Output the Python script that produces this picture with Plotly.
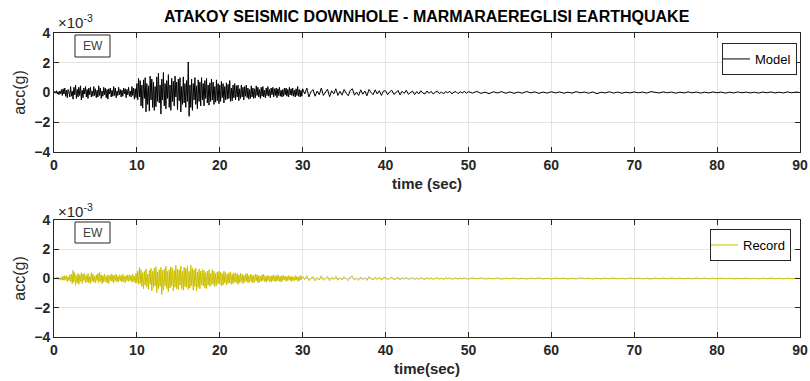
import numpy as np
import plotly.graph_objects as go

# sampling grids (s): 0-30 s every 0.1 s, 30-50 s every 0.25 s, 50-90 s every 0.5 s
time = np.concatenate([
    np.round(np.arange(0, 30, 0.1), 2),
    np.round(np.arange(30, 50, 0.25), 2),
    np.round(np.arange(50, 90.01, 0.5), 2),
])

# acceleration values in units of 1e-3 g, one row per second
model_early = [
    0.0, 0.08, -0.05, 0.12, -0.1, 0.05, -0.15, 0.1, -0.08, 0.2,
    -0.2, 0.25, -0.1, 0.3, -0.25, 0.15, -0.35, 0.2, 0.05, -0.3,
    0.4, -0.25, 0.1, -0.45, 0.35, -0.15, 0.5, -0.4, 0.2, -0.3,
    0.35, -0.2, 0.45, -0.5, 0.15, -0.35, 0.3, -0.1, 0.4, -0.3,
    0.2, -0.4, 0.3, -0.15, 0.35, -0.3, 0.1, -0.25, 0.4, -0.2,
    0.25, -0.35, 0.15, -0.3, 0.45, -0.2, 0.3, -0.4, 0.1, -0.25,
    0.35, -0.15, 0.3, -0.35, 0.2, -0.45, 0.25, -0.1, 0.3, -0.3,
    0.15, -0.25, 0.4, -0.2, 0.3, -0.35, 0.1, -0.2, 0.35, -0.15,
    0.2, -0.3, 0.15, -0.25, 0.3, -0.1, 0.25, -0.35, 0.2, -0.15,
    0.35, -0.25, 0.1, -0.3, 0.4, -0.2, 0.3, -0.45, 0.25, -0.35,
    0.6, -0.5, 0.95, -0.3, 0.8, -0.9, 0.5, -1.05, 0.85, -0.4,
    1.0, -1.3, 0.6, -0.8, 0.45, -1.25, 1.1, -0.5, 0.9, -1.0,
    0.7, -1.2, 0.4, -0.95, 1.05, -0.6, 1.3, -0.7, 0.5, -1.45,
    0.9, -0.5, 1.35, -0.9, 0.6, -1.1, 0.8, -0.4, 1.2, -1.0,
    0.5, -1.2, 0.95, -0.6, 0.75, -0.9, 1.1, -0.3, 0.7, -1.15,
    0.9, -0.55, 1.0, -1.3, 0.4, -0.8, 1.05, -0.7, 0.6, -1.0,
    0.8, -0.6, 2.05, -1.6, 0.5, -1.0, 0.9, -1.2, 0.6, -0.5,
    1.0, -0.8, 0.45, -1.1, 0.85, -0.6, 0.7, -0.9, 1.0, -0.5,
    0.6, -0.9, 0.8, -0.4, 0.95, -0.7, 0.5, -0.85, 0.65, -0.6,
    0.9, -0.5, 0.7, -0.8, 0.4, -0.65, 0.85, -0.55, 0.6, -0.75,
    0.5, -0.6, 0.75, -0.35, 0.6, -0.7, 0.4, -0.5, 0.65, -0.45,
    0.55, -0.4, 0.8, -0.6, 0.3, -0.55, 0.5, -0.35, 0.6, -0.5,
    0.45, -0.3, 0.5, -0.55, 0.25, -0.4, 0.5, -0.3, 0.35, -0.5,
    0.4, -0.25, 0.5, -0.35, 0.3, -0.45, 0.2, -0.4, 0.45, -0.3,
    0.3, -0.4, 0.25, -0.35, 0.45, -0.2, 0.35, -0.3, 0.2, -0.4,
    0.35, -0.25, 0.4, -0.3, 0.15, -0.35, 0.3, -0.2, 0.4, -0.25,
    0.2, -0.35, 0.3, -0.15, 0.35, -0.3, 0.25, -0.2, 0.3, -0.35,
    0.25, -0.2, 0.35, -0.25, 0.15, -0.3, 0.2, -0.25, 0.3, -0.15,
    0.3, -0.25, 0.2, -0.3, 0.35, -0.15, 0.25, -0.2, 0.3, -0.25,
    0.15, -0.3, 0.25, -0.2, 0.4, -0.25, 0.2, -0.3, 0.15, -0.25,
]
model_mid = [
    0.25, -0.1, 0.3, -0.3, 0.05, 0.2, -0.25, 0.1, -0.15, 0.3, -0.2, 0.0, 0.22, -0.28, 0.12, -0.1, 0.25, -0.2, 0.08, -0.18,
    0.2, -0.05, -0.22, 0.15, 0.25, -0.18, 0.02, -0.2, 0.18, -0.12, 0.1, -0.22, 0.2, 0.0, -0.15, 0.18, -0.1, 0.12, -0.2, 0.1,
    0.12, -0.15, 0.05, 0.15, -0.12, -0.02, 0.14, -0.16, 0.08, -0.06, 0.15, -0.12, 0.02, 0.1, -0.14, 0.06, -0.1, 0.12, -0.04, -0.1,
    0.1, -0.06, 0.08, -0.1, 0.02, 0.09, -0.08, 0.04, -0.1, 0.07, -0.02, 0.08, -0.09, 0.03, 0.06, -0.08, 0.05, -0.04, 0.08, -0.05,
]
model_late = [
    0.06, -0.04, 0.08, -0.06, 0.02, -0.08, 0.05, -0.03, 0.06, -0.05, 0.04, -0.06, 0.03, -0.05, 0.07, -0.02, 0.04, -0.06, 0.03, -0.04,
    0.05, -0.03, 0.04, -0.05, 0.02, -0.04, 0.06, -0.02, 0.03, -0.05, 0.04, -0.08, 0.02, -0.03, 0.05, -0.04, 0.03, -0.05, 0.02, -0.03,
    0.04, -0.02, 0.03, -0.04, 0.06, 0.02, -0.03, 0.04, -0.02, 0.03, -0.05, 0.02, -0.03, 0.04, -0.02, 0.03, -0.04, 0.02, -0.03, 0.04,
    -0.02, 0.03, -0.04, 0.02, -0.03, 0.04, -0.02, 0.03, -0.03, 0.02, -0.04, 0.03, -0.02, 0.04, -0.03, 0.02, -0.03, 0.04, -0.02, 0.03, 0.0,
]
record_early = [
    0.0, 0.03, -0.05, 0.08, -0.04, 0.1, -0.08, 0.05, -0.12, 0.1,
    -0.1, 0.15, -0.12, 0.2, -0.08, 0.18, -0.2, 0.12, -0.15, 0.25,
    -0.2, 0.3, -0.35, 0.55, -0.25, 0.4, -0.45, 0.2, -0.3, 0.35,
    -0.4, 0.25, -0.2, 0.4, -0.35, 0.3, -0.15, 0.35, -0.3, 0.2,
    -0.25, 0.35, -0.3, 0.15, -0.35, 0.4, -0.2, 0.3, -0.25, 0.15,
    -0.3, 0.25, -0.15, 0.35, -0.3, 0.45, -0.2, 0.25, -0.35, 0.2,
    -0.25, 0.3, -0.2, 0.15, -0.3, 0.25, -0.35, 0.2, -0.15, 0.3,
    -0.2, 0.25, -0.3, 0.2, -0.15, 0.3, -0.25, 0.15, -0.2, 0.25,
    -0.15, 0.2, -0.25, 0.3, -0.2, 0.15, -0.3, 0.2, -0.15, 0.25,
    -0.2, 0.25, -0.15, 0.2, -0.25, 0.3, -0.2, 0.15, -0.3, 0.35,
    -0.3, 0.5, -0.4, 0.75, -0.35, 0.6, -0.55, 0.4, -0.7, 0.5,
    -0.45, 0.65, -0.6, 0.3, -0.75, 0.55, -0.4, 0.7, -0.85, 0.5,
    -0.6, 0.7, -0.5, 0.8, -0.95, 0.45, -0.7, 0.6, -0.55, 0.75,
    -1.1, 0.55, -0.8, 0.65, -0.5, 0.85, -0.7, 0.5, -0.9, 0.6,
    -0.65, 0.8, -0.5, 0.7, -0.85, 0.55, -0.6, 0.9, -0.7, 0.65,
    -0.75, 0.6, -0.45, 0.85, -0.7, 0.5, -0.8, 0.75, -0.55, 0.7,
    -0.6, 0.85, -0.75, 0.5, -0.65, 0.9, -0.5, 0.7, -0.8, 0.6,
    -0.55, 0.7, -0.85, 0.45, -0.6, 0.65, -0.7, 0.5, -0.45, 0.6,
    -0.5, 0.55, -0.65, 0.4, -0.7, 0.5, -0.45, 0.6, -0.55, 0.35,
    -0.45, 0.6, -0.4, 0.5, -0.55, 0.35, -0.5, 0.45, -0.35, 0.5,
    -0.4, 0.45, -0.5, 0.35, -0.45, 0.5, -0.3, 0.4, -0.45, 0.3,
    -0.35, 0.4, -0.3, 0.45, -0.4, 0.3, -0.35, 0.4, -0.25, 0.35,
    -0.3, 0.35, -0.4, 0.25, -0.3, 0.35, -0.25, 0.3, -0.35, 0.2,
    -0.25, 0.3, -0.2, 0.35, -0.3, 0.2, -0.25, 0.3, -0.2, 0.25,
    -0.3, 0.2, -0.25, 0.3, -0.15, 0.25, -0.3, 0.2, -0.25, 0.15,
    -0.2, 0.25, -0.15, 0.3, -0.2, 0.15, -0.25, 0.2, -0.15, 0.2,
    -0.2, 0.15, -0.25, 0.2, -0.15, 0.25, -0.2, 0.15, -0.2, 0.25,
    -0.15, 0.2, -0.2, 0.15, -0.25, 0.2, -0.15, 0.2, -0.1, 0.15,
    -0.2, 0.15, -0.15, 0.2, -0.1, 0.15, -0.2, 0.15, -0.15, 0.1,
    -0.15, 0.2, -0.1, 0.15, -0.2, 0.1, -0.15, 0.2, -0.1, 0.15,
]
record_mid = [
    0.15, -0.08, 0.18, -0.15, 0.02, 0.12, -0.16, 0.06, -0.1, 0.18, -0.12, 0.0, 0.14, -0.16, 0.08, -0.06, 0.15, -0.12, 0.05, -0.1,
    0.12, -0.03, -0.14, 0.1, 0.15, -0.1, 0.02, -0.12, 0.1, -0.08, 0.06, -0.13, 0.12, 0.0, -0.1, 0.1, -0.06, 0.08, -0.12, 0.06,
    0.08, -0.1, 0.03, 0.09, -0.08, -0.01, 0.09, -0.1, 0.05, -0.04, 0.09, -0.07, 0.01, 0.06, -0.08, 0.04, -0.06, 0.07, -0.02, -0.06,
    0.06, -0.04, 0.05, -0.06, 0.01, 0.05, -0.05, 0.02, -0.06, 0.04, -0.01, 0.05, -0.05, 0.02, 0.04, -0.05, 0.03, -0.02, 0.05, -0.03,
]
record_late = [
    -0.03, 0.04, -0.02, 0.05, -0.04, 0.02, -0.03, 0.04, -0.05, 0.03, -0.02, 0.04, -0.03, 0.02, -0.04, 0.03, -0.02, 0.04, -0.03, 0.02,
    -0.03, 0.04, -0.02, 0.03, -0.04, 0.02, -0.03, 0.05, -0.02, 0.03, -0.04, 0.02, -0.03, 0.03, -0.02, 0.04, -0.03, 0.02, -0.03, 0.04,
    -0.02, 0.03, -0.03, 0.02, -0.04, 0.03, -0.02, 0.03, -0.03, 0.04, -0.02, 0.03, -0.02, 0.02, -0.03, 0.04, -0.02, 0.03, -0.03, 0.02,
    -0.02, 0.03, -0.02, 0.02, -0.03, 0.02, -0.02, 0.03, -0.02, 0.02, -0.03, 0.02, -0.02, 0.03, -0.02, 0.02, -0.03, 0.02, -0.02, 0.02, 0.0,
]

model = np.array(model_early + model_mid + model_late)
record = np.array(record_early + record_mid + record_late)

x_ticks = [0, 10, 20, 30, 40, 50, 60, 70, 80, 90]
y_ticks = [-4, -2, 0, 2, 4]

title_text = "ATAKOY SEISMIC DOWNHOLE - MARMARAEREGLISI EARTHQUAKE"
FONT = "Liberation Sans, Arial, sans-serif"
AX = "#262626"
GRID = "#e3e3e3"
REC_COLOR = "rgb(204,192,0)"

fig = go.Figure()
fig.add_trace(go.Scatter(x=time, y=model, mode="lines", name="Model",
                         line=dict(color="black", width=1),
                         xaxis="x", yaxis="y", legend="legend"))
fig.add_trace(go.Scatter(x=time, y=record, mode="lines", name="Record",
                         line=dict(color=REC_COLOR, width=1),
                         xaxis="x2", yaxis="y2", legend="legend2"))

def xax(domain, anchor, title):
    return dict(domain=domain, anchor=anchor, range=[0, 90], tickvals=x_ticks,
                automargin=False,
                showgrid=True, gridcolor=GRID, gridwidth=1,
                showline=True, linecolor=AX, linewidth=1, mirror="ticks",
                ticks="inside", ticklen=5, tickcolor=AX, zeroline=False,
                tickfont=dict(family=FONT, size=14, color=AX, weight="bold"),
                title=dict(text=title, font=dict(family=FONT, size=15, color=AX, weight="bold"),
                           standoff=6))

def yax(domain, anchor):
    return dict(domain=domain, anchor=anchor, range=[-4, 4], tickvals=y_ticks,
                automargin=False,
                showgrid=True, gridcolor=GRID, gridwidth=1,
                showline=True, linecolor=AX, linewidth=1, mirror="ticks",
                ticks="inside", ticklen=5, tickcolor=AX, zeroline=False,
                tickfont=dict(family=FONT, size=14, color=AX, weight="bold"),
                title=dict(text="acc(g)", font=dict(family=FONT, size=16, color=AX),
                           standoff=4))

xd = [54 / 810, 800 / 810]
fig.update_layout(
    width=810, height=381, margin=dict(l=0, r=0, t=0, b=0, autoexpand=False),
    paper_bgcolor="white", plot_bgcolor="white",
    xaxis=xax(xd, "y", "time (sec)"),
    yaxis=yax([1 - 152 / 381, 1 - 33 / 381], "x"),
    xaxis2=xax(xd, "y2", "time(sec)"),
    yaxis2=yax([1 - 337 / 381, 1 - 220 / 381], "x2"),
    legend=dict(x=797 / 810, y=1 - 43 / 381, xanchor="right", yanchor="top",
                bgcolor="white", bordercolor=AX, borderwidth=1,
                font=dict(family=FONT, size=13, color="black"),
                itemwidth=30, tracegroupgap=0, indentation=-8),
    legend2=dict(x=791 / 810, y=1 - 229 / 381, xanchor="right", yanchor="top",
                 bgcolor="white", bordercolor=AX, borderwidth=1,
                 font=dict(family=FONT, size=13, color="black"),
                 itemwidth=30, tracegroupgap=0, indentation=-8),
    showlegend=True,
)

annotations = [
    dict(text="<b>" + title_text + "</b>", x=427 / 810, y=1 - 17 / 381, xref="paper", yref="paper",
         showarrow=False, font=dict(family=FONT, size=16, color="black"), xanchor="center", yanchor="middle"),
    dict(text="×10<sup>-3</sup>", x=56 / 810, y=1 - 22 / 381, xref="paper", yref="paper",
         showarrow=False, font=dict(family=FONT, size=15, color=AX), xanchor="left", yanchor="middle"),
    dict(text="×10<sup>-3</sup>", x=56 / 810, y=1 - 210 / 381, xref="paper", yref="paper",
         showarrow=False, font=dict(family=FONT, size=15, color=AX), xanchor="left", yanchor="middle"),
    dict(text="EW", x=92.5 / 810, y=1 - 46 / 381, xref="paper", yref="paper",
         showarrow=False, font=dict(family=FONT, size=12, color="#404040"), xanchor="center", yanchor="middle"),
    dict(text="EW", x=92.5 / 810, y=1 - 232.5 / 381, xref="paper", yref="paper",
         showarrow=False, font=dict(family=FONT, size=12, color="#404040"), xanchor="center", yanchor="middle"),
]
fig.update_layout(annotations=annotations)

shapes = [
    dict(type="rect", xref="paper", yref="paper", x0=75 / 810, x1=110 / 810,
         y0=1 - 57 / 381, y1=1 - 35 / 381, line=dict(color=AX, width=1), fillcolor="white"),
    dict(type="rect", xref="paper", yref="paper", x0=75 / 810, x1=110 / 810,
         y0=1 - 243 / 381, y1=1 - 222 / 381, line=dict(color=AX, width=1), fillcolor="white"),
]
fig.update_layout(shapes=shapes)

fig.write_html("out.html")
